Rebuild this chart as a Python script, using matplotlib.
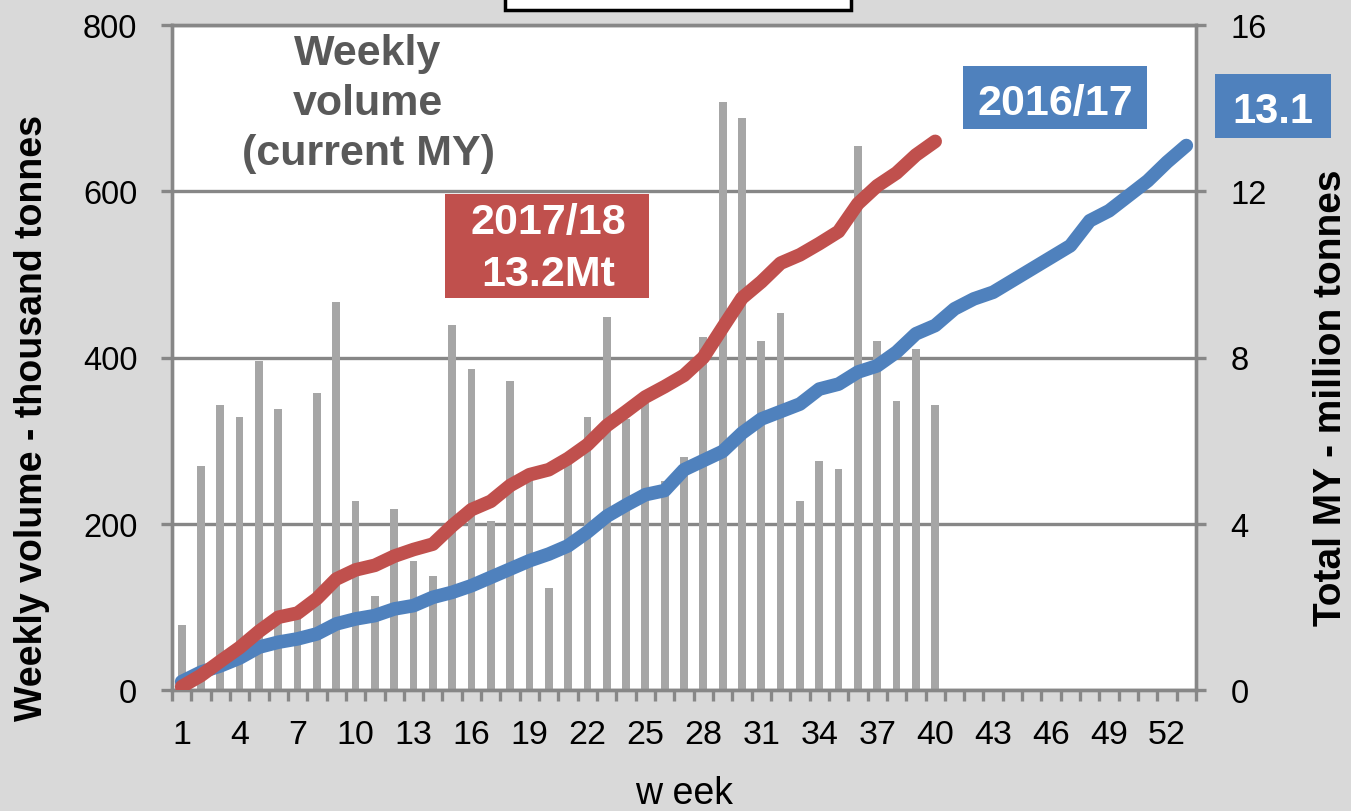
import matplotlib
matplotlib.use("Agg")
import matplotlib.pyplot as plt
from matplotlib.patches import Rectangle
from matplotlib.ticker import FixedLocator
import numpy as np

plt.rcParams["font.family"] = ["Liberation Sans", "DejaVu Sans"]

# weekly shipments, current marketing year (thousand tonnes)
weekly_volume = [78, 270, 343, 328, 396, 338, 90, 357, 467, 227,
                 113, 218, 155, 137, 439, 386, 203, 372, 254, 123,
                 273, 328, 449, 326, 345, 251, 280, 425, 707, 688,
                 420, 453, 227, 275, 266, 654, 420, 348, 410, 343]

# cumulative totals (million tonnes)
total_1718 = [0.08, 0.35, 0.69, 1.02, 1.41, 1.75, 1.85, 2.2, 2.67, 2.89,
              3.0, 3.22, 3.38, 3.51, 3.95, 4.34, 4.54, 4.92, 5.18, 5.3,
              5.57, 5.9, 6.36, 6.7, 7.05, 7.3, 7.57, 8.0, 8.72, 9.43,
              9.82, 10.27, 10.47, 10.74, 11.03, 11.7, 12.13, 12.44, 12.87, 13.2]
total_1617 = [0.2, 0.43, 0.58, 0.77, 1.03, 1.15, 1.23, 1.35, 1.59, 1.71,
              1.79, 1.95, 2.03, 2.23, 2.35, 2.51, 2.71, 2.91, 3.11, 3.27,
              3.47, 3.8, 4.18, 4.45, 4.7, 4.8, 5.3, 5.52, 5.74, 6.18,
              6.52, 6.7, 6.88, 7.24, 7.36, 7.65, 7.8, 8.13, 8.57, 8.77,
              9.17, 9.41, 9.57, 9.85, 10.13, 10.41, 10.69, 11.29, 11.53, 11.89,
              12.25, 12.7, 13.1]

n_weeks = 53
week_ticks = list(range(1, n_weeks + 1, 3))
left_ticks = [0, 200, 400, 600, 800]
right_ticks = [0, 4, 8, 12, 16]

BG = "#d9d9d9"
BAR = "#a6a6a6"
RED = "#c0504d"
BLUE = "#4f81bd"
GRID = "#878787"

W, H = 1351, 812
fig = plt.figure(figsize=(W / 100, H / 100), dpi=100, facecolor=BG)


def px(x, y):
    """pixel position (origin top-left) -> figure fraction"""
    return x / W, 1 - y / H


def label_box(x0, y0, x1, y1, **kw):
    fx, fy = px(x0, y1)
    fig.add_artist(Rectangle((fx, fy), (x1 - x0) / W, (y1 - y0) / H,
                             transform=fig.transFigure, clip_on=False, **kw))


ax = fig.add_axes([172 / W, 1 - 691 / H, 1024 / W, 665 / H])
ax.set_facecolor("white")
ax2 = ax.twinx()

# weekly bars
x_bar = np.arange(1, len(weekly_volume) + 1)
ax.bar(x_bar, weekly_volume, width=0.4, color=BAR, zorder=2)
ax.set_ylim(0, 800)
ax.set_yticks(left_ticks)
ax.yaxis.grid(True, color=GRID, lw=2.4, zorder=0)
ax.set_axisbelow(True)

ax.set_xlim(0.5, n_weeks + 0.5)
ax.set_xticks(week_ticks)
ax.set_xticklabels([str(w) for w in week_ticks])
ax.xaxis.set_minor_locator(FixedLocator(np.arange(0.5, n_weeks + 1, 1)))
ax.tick_params(axis="x", which="major", length=0, pad=21, labelsize=24.5)
ax.tick_params(axis="x", which="minor", length=8, width=2.4, color=GRID)
ax.tick_params(axis="y", length=8, width=2.4, color=GRID, labelsize=23.5, pad=17)

# cumulative lines
ax2.plot(np.arange(1, len(total_1617) + 1), total_1617, color=BLUE, lw=9.8,
         solid_capstyle="round", solid_joinstyle="round", zorder=3)
ax2.plot(np.arange(1, len(total_1718) + 1), total_1718, color=RED, lw=9.8,
         solid_capstyle="round", solid_joinstyle="round", zorder=4)
ax2.set_ylim(0, 16)
ax2.set_yticks(right_ticks)
ax2.tick_params(axis="y", length=7, width=2.4, color=GRID, labelsize=23.5, pad=18)

for a in (ax, ax2):
    for s in a.spines.values():
        s.set_color(GRID)
        s.set_linewidth(2.4)

ax.set_xlabel("w eek", fontsize=27)
ax.xaxis.set_label_coords(0.5, -0.128)
ax.set_ylabel("Weekly volume - thousand tonnes", fontsize=27, fontweight="bold", va="center")
ax.yaxis.set_label_coords((32 - 172) / 1024, (691 - 418) / 665)
ax2.set_ylabel("Total MY - million tonnes", fontsize=28, fontweight="bold", va="center")
ax2.yaxis.set_label_coords((1331 - 172) / 1024, (691 - 398) / 665)

# in-plot annotations
fig.text(*px(368, 104), "Weekly\nvolume\n(current MY)", ha="center", va="center",
         fontsize=31, fontweight="bold", color="#595959", linespacing=1.33)

label_box(445, 195, 649, 299, facecolor=RED, edgecolor="none")
fig.text(*px(548, 249), "2017/18\n13.2Mt", ha="center", va="center",
         fontsize=31, fontweight="bold", color="white", linespacing=1.38)

label_box(963, 67, 1147, 130, facecolor=BLUE, edgecolor="none")
fig.text(*px(1055, 100), "2016/17", ha="center", va="center_baseline",
         fontsize=31, fontweight="bold", color="white")

label_box(1215, 75, 1331, 139, facecolor=BLUE, edgecolor="none")
fig.text(*px(1273, 108), "13.1", ha="center", va="center_baseline",
         fontsize=30, fontweight="bold", color="white")

# title frame at the top edge
label_box(505, -20, 851, 11, facecolor="white", edgecolor="black", lw=2.5)

fig.savefig("out.png", dpi=100, facecolor=BG)
